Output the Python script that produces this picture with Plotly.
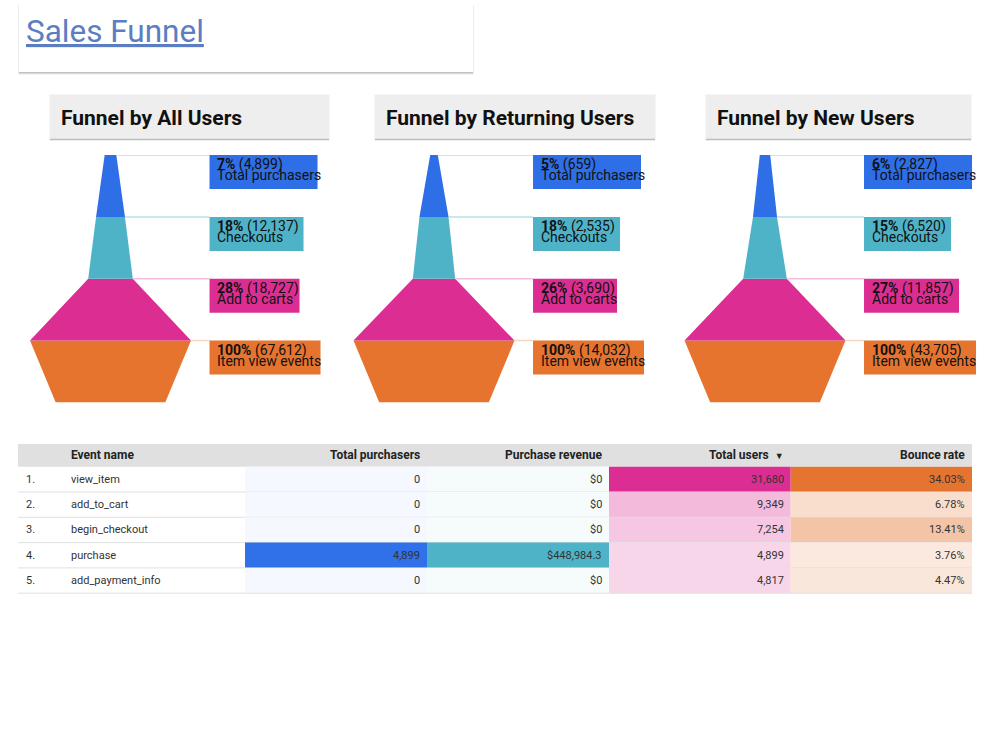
import plotly.graph_objects as go

# ---------------- data ----------------
stages = ["Item view events", "Add to carts", "Checkouts", "Total purchasers"]  # bottom -> top
panel_titles = ["Funnel by All Users", "Funnel by Returning Users", "Funnel by New Users"]
all_users = [67612, 18727, 12137, 4899]
returning_users = [14032, 3690, 2535, 659]
new_users = [43705, 11857, 6520, 2827]
funnels = [all_users, returning_users, new_users]

table_header = ["", "Event name", "Total purchasers", "Purchase revenue", "Total users", "Bounce rate"]
event_names = ["view_item", "add_to_cart", "begin_checkout", "purchase", "add_payment_info"]
total_purchasers = [0, 0, 0, 4899, 0]
purchase_revenue = [0, 0, 0, 448984.3, 0]
total_users = [31680, 9349, 7254, 4899, 4817]
bounce_rate = [34.03, 6.78, 13.41, 3.76, 4.47]

# ---------------- style ----------------
W, H = 1000, 750
FONT = "Roboto"
stage_colors = ["#e6742f", "#dc2e92", "#4fb3c8", "#2e6ee6"]
line_colors = ["#f8d5bf", "#f5bddd", "#b8e1ea", "#c3d6f8"]
panel_cx = [110.5, 434, 765]            # funnel centre (px)
UNIT = 161                               # px per 100 %
XR = (-0.55, 1.42)
Y_TOP_PX, Y_BOT_PX = 155, 402.5
STAGE_PX = (Y_BOT_PX - Y_TOP_PX) / 4
LABEL_X = 0.615
BOX_H = 34 / STAGE_PX
box_widths = [[111, 90, 94, 108], [111, 84, 87, 108], [112, 95, 87, 108]]
BASE_RATIO = 0.68
header_boxes = [(50, 329), (375, 655), (706, 971)]
PAD = 2.5   # annotation inner padding compensation (px)


def px(x):
    return x / W


def py(y):
    return 1 - y / H


fig = go.Figure()
shapes = []
annotations = []

# title card
shapes.append(dict(type="rect", xref="paper", yref="paper", x0=px(18), x1=px(474), y0=py(74.5), y1=py(5),
                   fillcolor="rgba(0,0,0,0.07)", line_width=0, layer="below"))
shapes.append(dict(type="rect", xref="paper", yref="paper", x0=px(19), x1=px(473), y0=py(73.5), y1=py(5),
                   fillcolor="rgba(0,0,0,0.18)", line_width=0, layer="below"))
shapes.append(dict(type="rect", xref="paper", yref="paper", x0=px(19), x1=px(473), y0=py(72), y1=py(5),
                   fillcolor="white", line_width=0, layer="below"))
annotations.append(dict(xref="paper", yref="paper", x=px(26 - PAD), y=py(31.5), xanchor="left", yanchor="middle",
                        text="<u>Sales Funnel</u>", showarrow=False,
                        font=dict(family=FONT, size=31.5, color="#5b7ec2")))

# funnels
for k, vals in enumerate(funnels):
    ax = "" if k == 0 else str(k + 1)
    cx = panel_cx[k]
    d0 = (cx + XR[0] * UNIT) / W
    d1 = (cx + XR[1] * UNIT) / W
    fig.layout["xaxis" + ax] = dict(domain=[d0, d1], range=list(XR), visible=False, fixedrange=True,
                                    anchor="y" + ax)
    fig.layout["yaxis" + ax] = dict(domain=[py(Y_BOT_PX), py(Y_TOP_PX)], range=[0, 4], visible=False,
                                    fixedrange=True, anchor="x" + ax)
    shares = [v / vals[0] for v in vals]
    for i, s in enumerate(shares):
        tw = s
        bw = BASE_RATIO if i == 0 else shares[i - 1]
        fig.add_trace(go.Scatter(x=[-bw / 2, bw / 2, tw / 2, -tw / 2, -bw / 2], y=[i, i, i + 1, i + 1, i],
                                 fill="toself", fillcolor=stage_colors[i], mode="lines", line=dict(width=0),
                                 hoverinfo="skip", xaxis="x" + ax, yaxis="y" + ax))
        fig.add_trace(go.Scatter(x=[tw / 2, LABEL_X], y=[i + 1, i + 1], mode="lines",
                                 line=dict(width=1.5, color=line_colors[i]), hoverinfo="skip",
                                 xaxis="x" + ax, yaxis="y" + ax))
        shapes.append(dict(type="rect", xref="x" + ax, yref="y" + ax, x0=LABEL_X,
                           x1=LABEL_X + box_widths[k][i] / UNIT, y0=i + 1 - BOX_H, y1=i + 1,
                           fillcolor=stage_colors[i], line_width=0))
        pct = round(s * 100)
        tx = LABEL_X + (8 - PAD) / UNIT
        annotations.append(dict(xref="x" + ax, yref="y" + ax, x=tx, y=i + 1 - 9.5 / STAGE_PX,
                                xanchor="left", yanchor="middle", showarrow=False,
                                text=f"<b>{pct}%</b> ({vals[i]:,})",
                                font=dict(family=FONT, size=14, color="#111111")))
        annotations.append(dict(xref="x" + ax, yref="y" + ax, x=tx, y=i + 1 - 20.3 / STAGE_PX,
                                xanchor="left", yanchor="middle", showarrow=False, text=stages[i],
                                font=dict(family=FONT, size=14, color="#111111")))
    # header card
    x0, x1 = header_boxes[k]
    shapes.append(dict(type="rect", xref="paper", yref="paper", x0=px(x0 - 0.5), x1=px(x1 + 0.5),
                       y0=py(141), y1=py(94.5), fillcolor="rgba(0,0,0,0.07)", line_width=0, layer="below"))
    shapes.append(dict(type="rect", xref="paper", yref="paper", x0=px(x0), x1=px(x1), y0=py(140), y1=py(95),
                       fillcolor="rgba(0,0,0,0.2)", line_width=0, layer="below"))
    shapes.append(dict(type="rect", xref="paper", yref="paper", x0=px(x0), x1=px(x1), y0=py(138.7), y1=py(95),
                       fillcolor="#eeeeee", line_width=0, layer="below"))
    annotations.append(dict(xref="paper", yref="paper", x=px(x0 + 11 - PAD), y=py(117.5), xanchor="left",
                            yanchor="middle", showarrow=False, text=f"<b>{panel_titles[k]}</b>",
                            font=dict(family=FONT, size=21, color="#111111")))

# ---------------- table ----------------
T_LEFT, T_RIGHT = 18, 972
HEAD_TOP, HEAD_BOT = 444, 466.7
ROW_H = 25.3
num_cols = [(245, 427), (427, 609), (609, 790.7), (790.7, 972)]
col_bases = [(48, 112, 232), (79, 179, 200), (220, 46, 146), (229, 116, 48)]
col_values = [total_purchasers, purchase_revenue, total_users, bounce_rate]


def fmt(c, v):
    if c == 0 or c == 2:
        return f"{v:,}"
    if c == 1:
        return "$0" if v == 0 else f"${v:,.1f}"
    return f"{v:.2f}%"


def tint(base, t):
    r, g, b = (round(255 - t * (255 - ch)) for ch in base)
    return f"rgb({r},{g},{b})"


shapes.append(dict(type="rect", xref="paper", yref="paper", x0=px(T_LEFT), x1=px(T_RIGHT),
                   y0=py(HEAD_BOT), y1=py(HEAD_TOP), fillcolor="#e0e0e0", line_width=0, layer="below"))
hy = py((HEAD_TOP + HEAD_BOT) / 2)
annotations.append(dict(xref="paper", yref="paper", x=px(71 - PAD), y=hy, xanchor="left", yanchor="middle",
                        showarrow=False, text=f"<b>{table_header[1]}</b>",
                        font=dict(family=FONT, size=12, color="#222222")))
for c, (x0, x1) in enumerate(num_cols):
    label = f"<b>{table_header[c + 2]}</b>"
    right = x1 - 7.5 + PAD
    if c == 2:
        label = label + "  <span style='font-size:9px'>▼</span>"
    annotations.append(dict(xref="paper", yref="paper", x=px(right), y=hy, xanchor="right", yanchor="middle",
                            showarrow=False, text=label, font=dict(family=FONT, size=12, color="#222222")))

for r, name in enumerate(event_names):
    top = HEAD_BOT + r * ROW_H
    bot = top + ROW_H
    cy = py((top + bot) / 2)
    annotations.append(dict(xref="paper", yref="paper", x=px(26 - PAD), y=cy, xanchor="left", yanchor="middle",
                            showarrow=False, text=f"{r + 1}.", font=dict(family=FONT, size=11, color="#333333")))
    annotations.append(dict(xref="paper", yref="paper", x=px(71 - PAD), y=cy, xanchor="left", yanchor="middle",
                            showarrow=False, text=name, font=dict(family=FONT, size=11, color="#333333")))
    for c, (x0, x1) in enumerate(num_cols):
        vals = col_values[c]
        v = vals[r]
        t = 0.05 + 0.95 * v / max(vals)
        shapes.append(dict(type="rect", xref="paper", yref="paper", x0=px(x0), x1=px(x1), y0=py(bot),
                           y1=py(top), fillcolor=tint(col_bases[c], t), line_width=0, layer="below"))
        annotations.append(dict(xref="paper", yref="paper", x=px(x1 - 7.5 + PAD), y=cy, xanchor="right",
                                yanchor="middle", showarrow=False, text=fmt(c, v),
                                font=dict(family=FONT, size=11, color="#333333")))
    shapes.append(dict(type="line", xref="paper", yref="paper", x0=px(T_LEFT), x1=px(T_RIGHT), y0=py(bot),
                       y1=py(bot), line=dict(color="#e0e0e0", width=1), layer="below"))

fig.update_layout(width=W, height=H, margin=dict(l=0, r=0, t=0, b=0), paper_bgcolor="white",
                  plot_bgcolor="rgba(0,0,0,0)", showlegend=False, shapes=shapes, annotations=annotations,
                  font=dict(family=FONT))
fig.write_html("out.html")
